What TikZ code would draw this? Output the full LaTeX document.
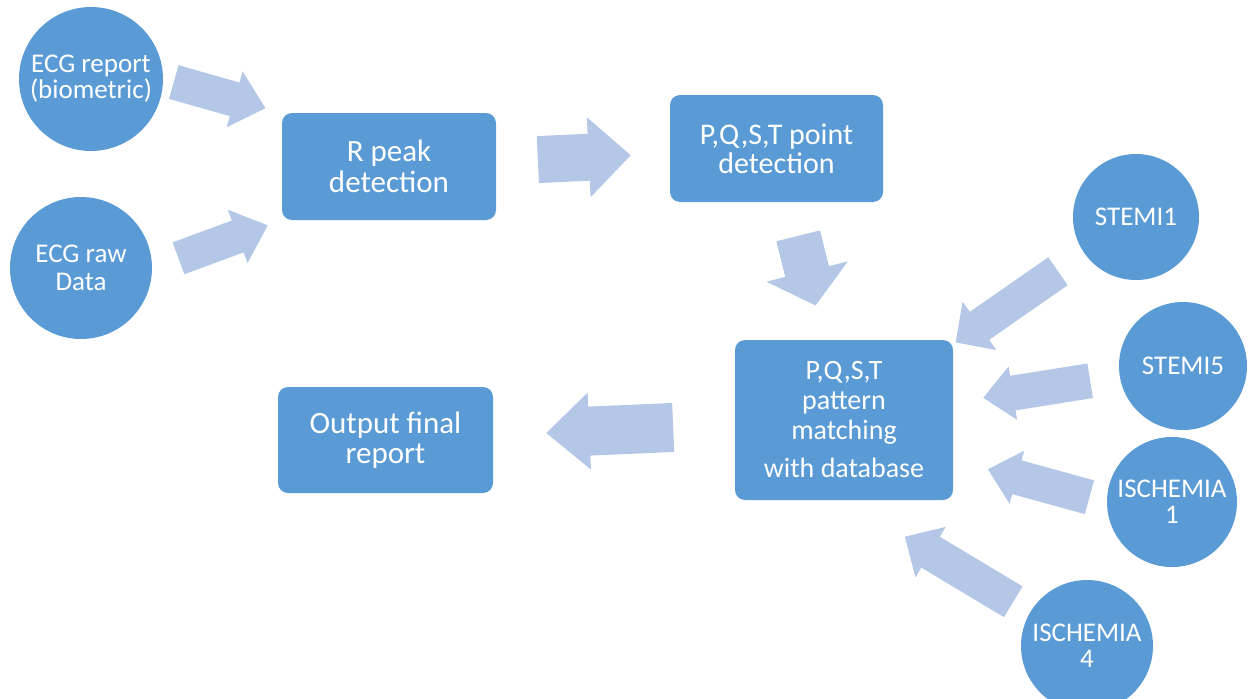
\documentclass[tikz,border=0pt]{standalone}
\usepackage{fontspec}
\setmainfont{Carlito}
\usetikzlibrary{calc}
\definecolor{boxblue}{HTML}{5B9BD5}
\definecolor{arrowblue}{HTML}{B4C7E7}
\tikzset{
  src/.style={circle, fill=boxblue, text=white, inner sep=0pt, align=center,
    font=\fontsize{27}{26}\selectfont},
  stage/.style={rectangle, rounded corners=10pt, fill=boxblue, text=white,
    inner sep=0pt, align=center, font=\fontsize{29}{29}\selectfont},
  flow/.style={fill=arrowblue}
}
% block arrow between two points:
% from, to, shorten at start, shorten at end, half body, half head, head length
\newcommand\blockarrow[7]{%
  \path (#1) coordinate (ba-s) (#2) coordinate (ba-e);
  \coordinate (ba-t) at ($(ba-s)!#3!(ba-e)$);
  \coordinate (ba-h) at ($(ba-e)!#4!(ba-s)$);
  \coordinate (ba-m) at ($(ba-h)!#7!(ba-t)$);
  \fill[flow] ($(ba-t)!#5!90:(ba-h)$) -- ($(ba-m)!#5!90:(ba-h)$)
    -- ($(ba-m)!#6!90:(ba-h)$) -- (ba-h) -- ($(ba-m)!#6!-90:(ba-h)$)
    -- ($(ba-m)!#5!-90:(ba-h)$) -- ($(ba-t)!#5!-90:(ba-h)$) -- cycle;
}
\begin{document}
\begin{tikzpicture}[x=1pt,y=-1pt]
      \useasboundingbox (0,0) rectangle (1254,699);
      \clip (0,0) rectangle (1254,699);
      \draw
        (91,79) node[src, minimum size=144pt] (ecgrep) {ECG report\\(biometric)}
        (81,268) node[src, minimum size=142pt, font=\fontsize{27}{28}\selectfont] (ecgraw) {ECG raw\\Data}
        (389,166.5) node[stage, minimum width=214pt, minimum height=107pt,
          font=\fontsize{31}{31}\selectfont] (rpeak) {R peak\\detection}
        (776.5,148.5) node[stage, minimum width=213pt, minimum height=107pt,
          font=\fontsize{30}{29}\selectfont] (pqstpt) {P,Q,S,T point\\detection}
        (844,420) node[stage, minimum width=218pt, minimum height=160pt,
          font=\fontsize{28}{30}\selectfont] (pattern) {P,Q,S,T\\pattern\\matching\\[8pt]with database}
        (385.5,440) node[stage, minimum width=215pt, minimum height=106pt,
          font=\fontsize{31}{30}\selectfont] (output) {Output final\\report}
        (1136,217) node[src, minimum size=126pt] (stemi1) {STEMI1}
        (1183,366) node[src, minimum size=128pt] (stemi5) {STEMI5}
        (1172,502) node[src, minimum size=130pt] (isch1) {ISCHEMIA\\1}
        (1087,646) node[src, minimum size=132pt] (isch4) {ISCHEMIA\\4};
      % inputs into R peak detection
      \blockarrow{ecgrep.east}{rpeak.north west}{11pt}{17pt}{17.5pt}{29pt}{32pt}
      \blockarrow{ecgraw.east}{rpeak.south west}{28pt}{15pt}{17pt}{28.5pt}{32pt}
      % main chain
      \blockarrow{rpeak.center}{pqstpt.center}{149pt}{146pt}{23.5pt}{40pt}{42pt}
      \blockarrow{pqstpt.center}{pattern.center}{90pt}{118pt}{22.5pt}{42pt}{35pt}
      \blockarrow{pattern.center}{output.center}{171pt}{161pt}{24.5pt}{38.5pt}{43pt}
      % reference patterns
      \blockarrow{stemi1.center}{pattern.center}{95pt}{136pt}{17pt}{29.5pt}{29pt}
      \blockarrow{stemi5.center}{pattern.center}{94pt}{141pt}{17.5pt}{27pt}{30pt}
      \blockarrow{isch1.west}{pattern.-20}{18pt}{36pt}{17.5pt}{27.5pt}{30pt}
      \blockarrow{isch4.center}{pattern.south}{86pt}{71pt}{18pt}{29.5pt}{30pt}
    \end{tikzpicture}
\end{document}
